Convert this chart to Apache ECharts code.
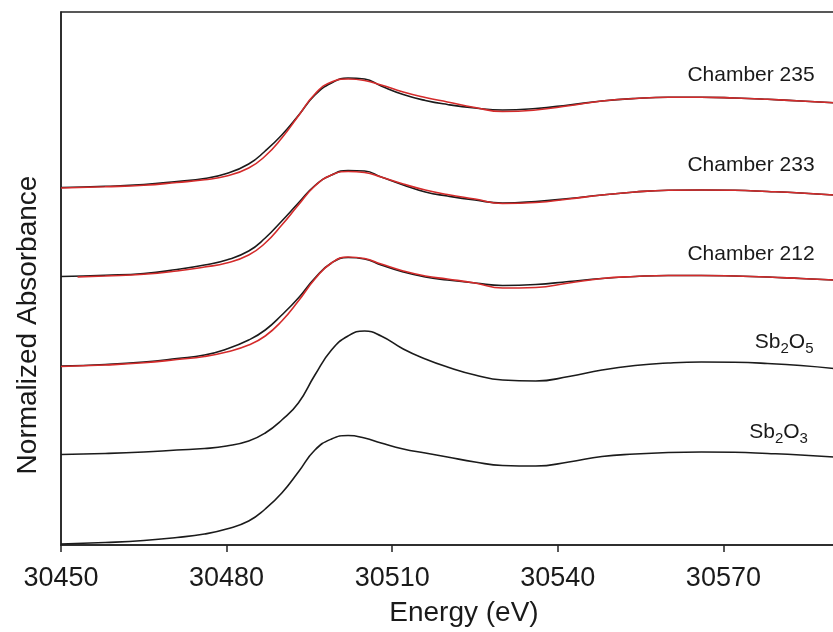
<!DOCTYPE html>
<html>
<head>
<meta charset="utf-8">
<script src="https://cdn.jsdelivr.net/npm/echarts@6/dist/echarts.min.js"></script>
<style>
  html, body { margin: 0; padding: 0; background: #fff; overflow: hidden; }
  /* the plot runs on past the right edge of the picture, so the chart is wider than the window */
  #chart { width: 892px; height: 632px; }
</style>
</head>
<body>
<div id="chart"></div>
<script>
// energy grid (eV)
const energy = [30450, 30458, 30465, 30471, 30476, 30480, 30484, 30487, 30490, 30493, 30496, 30499, 30502, 30505,
  30508, 30512, 30516, 30520, 30525, 30530, 30536, 30542, 30548, 30554, 30560, 30566, 30572, 30578, 30584, 30590];
// the Chamber 233 fit starts a little after the axis
const energyFit233 = [30453, 30458, 30465, 30471, 30476, 30480, 30484, 30487, 30490, 30493, 30496, 30499, 30502, 30505,
  30508, 30512, 30516, 30520, 30525, 30530, 30536, 30542, 30548, 30554, 30560, 30566, 30572, 30578, 30584, 30590];

// stacked (offset) normalized absorbance, black = data, red = fit
const ch235 = [3.575, 3.587, 3.605, 3.635, 3.665, 3.715, 3.81, 3.94, 4.10, 4.295, 4.50, 4.62, 4.67, 4.66,
  4.59, 4.505, 4.445, 4.405, 4.37, 4.35, 4.365, 4.40, 4.44, 4.465, 4.477, 4.477, 4.47, 4.457, 4.44, 4.422];
const ch235Fit = [3.57, 3.582, 3.597, 3.625, 3.652, 3.69, 3.77, 3.89, 4.07, 4.29, 4.51, 4.63, 4.66, 4.645,
  4.60, 4.53, 4.475, 4.43, 4.375, 4.335, 4.35, 4.392, 4.44, 4.465, 4.477, 4.477, 4.47, 4.457, 4.44, 4.422];
const ch233 = [2.685, 2.697, 2.715, 2.755, 2.80, 2.85, 2.94, 3.07, 3.24, 3.42, 3.595, 3.70, 3.745, 3.74,
  3.68, 3.60, 3.53, 3.49, 3.45, 3.42, 3.435, 3.465, 3.50, 3.53, 3.547, 3.55, 3.547, 3.535, 3.52, 3.50];
const ch233Fit = [2.68, 2.69, 2.707, 2.74, 2.78, 2.82, 2.90, 3.02, 3.20, 3.40, 3.59, 3.70, 3.735, 3.725,
  3.68, 3.61, 3.55, 3.505, 3.46, 3.415, 3.425, 3.46, 3.50, 3.53, 3.547, 3.55, 3.547, 3.535, 3.52, 3.50];
const ch212 = [1.79, 1.805, 1.83, 1.865, 1.90, 1.96, 2.05, 2.15, 2.30, 2.47, 2.67, 2.82, 2.875, 2.86,
  2.80, 2.73, 2.68, 2.65, 2.62, 2.595, 2.605, 2.635, 2.665, 2.685, 2.695, 2.695, 2.69, 2.68, 2.665, 2.65];
const ch212Fit = [1.785, 1.80, 1.822, 1.855, 1.885, 1.93, 2.00, 2.09, 2.24, 2.44, 2.66, 2.82, 2.88, 2.865,
  2.81, 2.74, 2.69, 2.66, 2.62, 2.57, 2.575, 2.62, 2.665, 2.685, 2.695, 2.695, 2.69, 2.68, 2.665, 2.65];
const sb2o5 = [0.905, 0.915, 0.93, 0.95, 0.965, 0.99, 1.04, 1.12, 1.25, 1.42, 1.70, 1.95, 2.09, 2.14,
  2.09, 1.96, 1.86, 1.78, 1.70, 1.65, 1.64, 1.685, 1.75, 1.795, 1.82, 1.83, 1.827, 1.815, 1.795, 1.765];
const sb2o3 = [0.01, 0.025, 0.045, 0.075, 0.11, 0.16, 0.24, 0.36, 0.52, 0.73, 0.95, 1.06, 1.095, 1.07,
  1.02, 0.96, 0.92, 0.88, 0.83, 0.795, 0.79, 0.83, 0.885, 0.91, 0.925, 0.93, 0.927, 0.915, 0.90, 0.88];

// curve labels: [energy, value, text]
const labels = [
  [30575, 4.70, 'Chamber 235'],
  [30575, 3.795, 'Chamber 233'],
  [30575, 2.91, 'Chamber 212'],
  [30581, 2.03, '{n|Sb}{s|2}{n|O}{s|5}'],
  [30580, 1.13, '{n|Sb}{s|2}{n|O}{s|3}']
];

const xTicks = [30450, 30480, 30510, 30540, 30570];

const BLACK = '#1b1b1b';
const RED = '#d42b2b';

function pairs(xs, ys) {
  return xs.map((x, i) => [x, ys[i]]);
}

function line(name, xs, ys, color) {
  return {
    name: name,
    type: 'line',
    data: pairs(xs, ys),
    smooth: true,
    showSymbol: false,
    lineStyle: { color: color, width: 1.6 },
    z: color === RED ? 3 : 2
  };
}

const chart = echarts.init(document.getElementById('chart'));
chart.setOption({
  animation: false,
  backgroundColor: '#fff',
  textStyle: { fontFamily: 'Liberation Sans, Arial, sans-serif' },
  grid: {
    left: 61,
    top: 12,
    bottom: 87,
    right: 0,
    show: true,
    borderColor: '#222',
    borderWidth: 1.5
  },
  xAxis: {
    type: 'value',
    min: 30450,
    max: 30600,
    interval: 30,
    axisLine: { lineStyle: { color: '#222', width: 1.5 } },
    axisTick: { show: true, length: 7, lineStyle: { color: '#222', width: 1.5 } },
    axisLabel: {
      fontSize: 27,
      color: '#1a1a1a',
      margin: 20,
      formatter: v => (xTicks.indexOf(v) >= 0 ? String(v) : '')
    },
    splitLine: { show: false }
  },
  yAxis: {
    type: 'value',
    min: 0,
    max: 5.33,
    axisLine: { show: true, lineStyle: { color: '#222', width: 1.5 } },
    axisTick: { show: false },
    axisLabel: { show: false },
    splitLine: { show: false }
  },
  graphic: [
    {
      type: 'text',
      x: 464,
      y: 613,
      style: {
        text: 'Energy (eV)',
        font: '28px "Liberation Sans", Arial, sans-serif',
        fill: '#1a1a1a',
        textAlign: 'center',
        textVerticalAlign: 'middle'
      }
    },
    {
      type: 'text',
      x: 28,
      y: 325,
      rotation: Math.PI / 2,
      style: {
        text: 'Normalized Absorbance',
        font: '28px "Liberation Sans", Arial, sans-serif',
        fill: '#1a1a1a',
        textAlign: 'center',
        textVerticalAlign: 'middle'
      }
    }
  ],
  series: [
    line('Chamber 235', energy, ch235, BLACK),
    line('Chamber 235 fit', energy, ch235Fit, RED),
    line('Chamber 233', energy, ch233, BLACK),
    line('Chamber 233 fit', energyFit233, ch233Fit, RED),
    line('Chamber 212', energy, ch212, BLACK),
    line('Chamber 212 fit', energy, ch212Fit, RED),
    line('Sb2O5', energy, sb2o5, BLACK),
    line('Sb2O3', energy, sb2o3, BLACK),
    {
      type: 'scatter',
      symbolSize: 0,
      silent: true,
      itemStyle: { opacity: 1 },
      data: labels.map(l => [l[0], l[1], l[2]]),
      label: {
        show: true,
        position: 'inside',
        formatter: p => p.value[2],
        fontSize: 21,
        color: '#1a1a1a',
        rich: {
          n: { fontSize: 21, color: '#1a1a1a', verticalAlign: 'middle' },
          // subscripts: taller box aligned to the bottom pushes the digit below the baseline
          s: { fontSize: 15, color: '#1a1a1a', verticalAlign: 'bottom', padding: [14, 0, 0, 0] }
        }
      }
    }
  ]
});
</script>
</body>
</html>
